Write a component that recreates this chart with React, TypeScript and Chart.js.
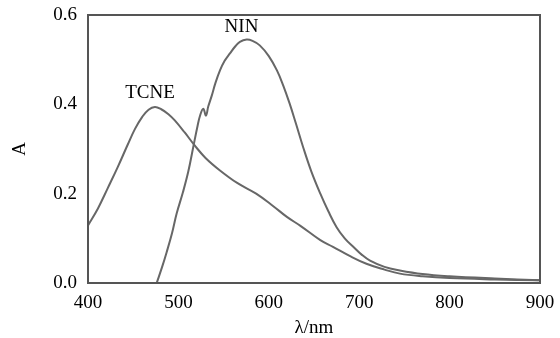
import React, { useEffect, useRef } from "react";
import { Chart, registerables } from "chart.js";

Chart.register(...registerables);

const TCNE_NM = [400, 411, 422, 433, 444, 452, 460, 467, 474, 481, 489, 496, 507, 518, 530, 546, 565, 586, 605, 620, 635, 657, 671, 690, 708, 728, 745, 770, 800, 850, 900];
const TCNE_A = [0.129, 0.167, 0.213, 0.26, 0.31, 0.345, 0.372, 0.388, 0.394, 0.389, 0.378, 0.364, 0.337, 0.308, 0.28, 0.252, 0.224, 0.2, 0.172, 0.148, 0.128, 0.096, 0.081, 0.06, 0.043, 0.03, 0.021, 0.015, 0.011, 0.008, 0.006];

const NIN_NM = [476, 482, 487, 493, 498, 505, 511, 516.5, 521, 524, 527.5, 530.5, 533, 537, 541, 546, 551, 557, 563, 568, 575.5, 582, 590, 600, 609, 616, 623, 630, 638, 647, 657, 666, 675, 684, 694, 703, 712, 728, 745, 770, 800, 850, 900];
const NIN_A = [0, 0.036, 0.069, 0.112, 0.155, 0.203, 0.25, 0.305, 0.35, 0.375, 0.39, 0.375, 0.395, 0.42, 0.448, 0.476, 0.497, 0.514, 0.53, 0.54, 0.545, 0.542, 0.532, 0.508, 0.476, 0.442, 0.402, 0.357, 0.304, 0.25, 0.2, 0.16, 0.125, 0.1, 0.08, 0.063, 0.05, 0.036, 0.028, 0.02, 0.015, 0.01, 0.006];

const LABEL_TEXT = ["TCNE", "NIN"];
const LABEL_NM = [468.6, 569.8];
const LABEL_A = [0.425, 0.572];

const X_TICKS = [400, 500, 600, 700, 800, 900];
const Y_TICKS = [0, 0.2, 0.4, 0.6];

const FONT = "'Liberation Serif', 'Times New Roman', serif";
const LINE = "#676767";
const FRAME = "#555555";

export default function App() {
  const ref = useRef<HTMLCanvasElement | null>(null);

  useEffect(() => {
    if (!ref.current) return;
    const framePlugin = {
      id: "frame",
      afterDraw(chart: any) {
        const { ctx, chartArea } = chart;
        ctx.save();
        ctx.strokeStyle = FRAME;
        ctx.lineWidth = 2;
        ctx.strokeRect(chartArea.left, chartArea.top, chartArea.right - chartArea.left, chartArea.bottom - chartArea.top);
        ctx.restore();
      },
    };
    const labelPlugin = {
      id: "curveLabels",
      afterDatasetsDraw(chart: any) {
        const { ctx, scales } = chart;
        ctx.save();
        ctx.fillStyle = "#000";
        ctx.font = `19px ${FONT}`;
        ctx.textAlign = "center";
        ctx.textBaseline = "middle";
        LABEL_TEXT.forEach((t, i) => {
          ctx.fillText(t, scales.x.getPixelForValue(LABEL_NM[i]), scales.y.getPixelForValue(LABEL_A[i]));
        });
        ctx.restore();
      },
    };
    const chart = new Chart(ref.current, {
      type: "line",
      data: {
        datasets: [
          {
            label: "TCNE",
            data: TCNE_NM.map((x, i) => ({ x, y: TCNE_A[i] })),
            borderColor: LINE,
            borderWidth: 2,
            pointRadius: 0,
            tension: 0.4,
            fill: false,
          },
          {
            label: "NIN",
            data: NIN_NM.map((x, i) => ({ x, y: NIN_A[i] })),
            borderColor: LINE,
            borderWidth: 2,
            pointRadius: 0,
            tension: 0.4,
            fill: false,
          },
        ],
      },
      options: {
        responsive: false,
        animation: false,
        layout: { padding: { top: 15, right: 20, left: 0, bottom: 0 } },
        plugins: { legend: { display: false }, tooltip: { enabled: false } },
        scales: {
          x: {
            type: "linear",
            min: 400,
            max: 900,
            afterBuildTicks: (s: any) => { s.ticks = X_TICKS.map((v) => ({ value: v })); },
            afterFit: (s: any) => { s.height = 55; s.paddingLeft = 0; s.paddingRight = 0; },
            grid: { display: false, drawTicks: false },
            border: { display: false },
            ticks: { color: "#000", font: { family: FONT, size: 19 }, padding: 9, maxRotation: 0, callback: (v: any) => String(v) },
            title: { display: true, text: "λ/nm", color: "#000", font: { family: FONT, size: 19, lineHeight: 1 }, padding: 0 },
          },
          y: {
            type: "linear",
            min: 0,
            max: 0.6,
            afterBuildTicks: (s: any) => { s.ticks = Y_TICKS.map((v) => ({ value: v })); },
            afterFit: (s: any) => { s.width = 88; s.paddingTop = 0; s.paddingBottom = 0; },
            grid: { display: false, drawTicks: false },
            border: { display: false },
            ticks: { color: "#000", font: { family: FONT, size: 19 }, padding: 11, callback: (v: any) => Number(v).toFixed(1) },
            title: { display: true, text: "A", color: "#000", font: { family: FONT, size: 19, lineHeight: 1 }, padding: { top: 11, bottom: 0 } },
          },
        },
      },
      plugins: [framePlugin, labelPlugin],
    } as any);
    return () => chart.destroy();
  }, []);

  return (
    <div style={{ position: "fixed", left: 0, top: 0, width: 560, height: 338, background: "#fff" }}>
      <canvas ref={ref} width={560} height={338} style={{ display: "block" }} />
    </div>
  );
}
